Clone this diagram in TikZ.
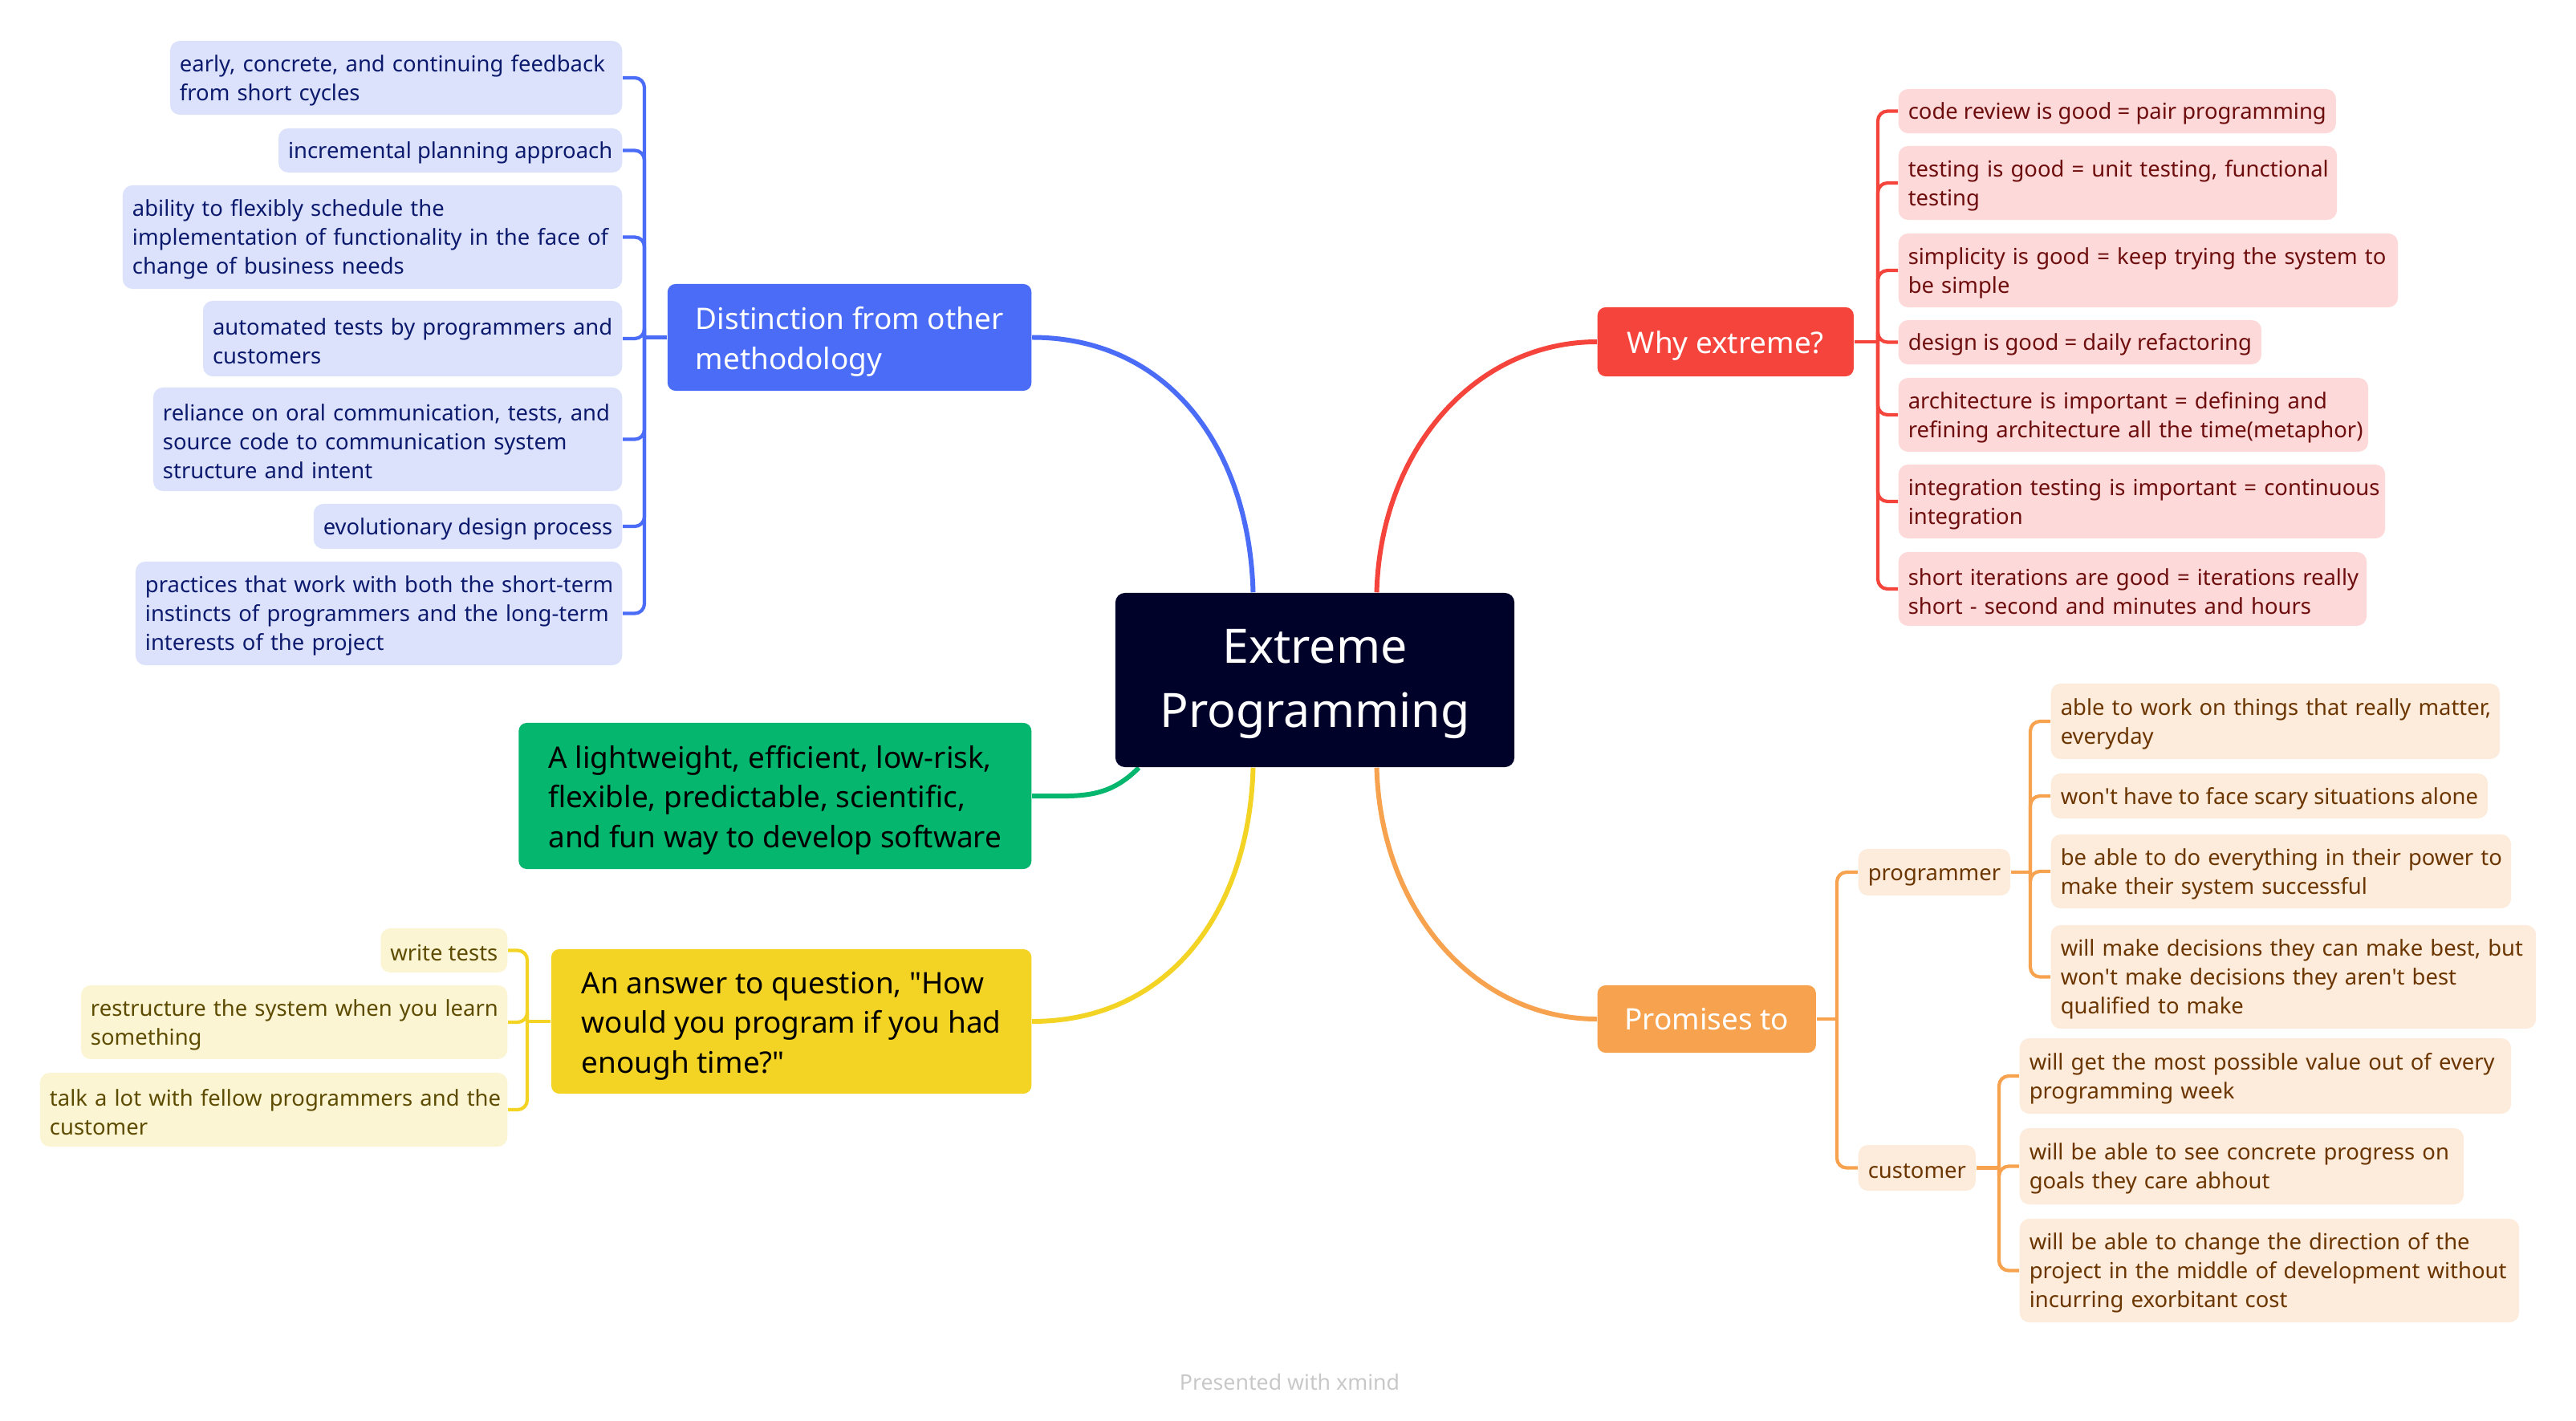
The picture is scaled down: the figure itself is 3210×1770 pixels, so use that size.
\documentclass[tikz,border=0pt]{standalone}
\usepackage{fontspec}
\setmainfont{Noto Sans}
\usetikzlibrary{calc}
\definecolor{cdark}{HTML}{01022A}
\definecolor{cblue}{HTML}{4A6CF7}
\definecolor{lblue}{HTML}{DDE2FC}
\definecolor{tblue}{HTML}{0C1A6E}
\definecolor{cred}{HTML}{F5443C}
\definecolor{lred}{HTML}{FDD9D9}
\definecolor{tred}{HTML}{6E0D0D}
\definecolor{corange}{HTML}{F7A24E}
\definecolor{lorange}{HTML}{FDEBDC}
\definecolor{torange}{HTML}{6B3500}
\definecolor{cgreen}{HTML}{05B66F}
\definecolor{cyellow}{HTML}{F3D425}
\definecolor{lyellow}{HTML}{FCF5D4}
\definecolor{tyellow}{HTML}{5C4B00}
\definecolor{wmark}{HTML}{C8C8C8}
\newcommand\subfs{\fontsize{7.8pt}{10.2pt}\selectfont}
\newcommand\mainfs{\fontsize{10.5pt}{14pt}\selectfont}
\newcommand\ctrfs{\fontsize{16.8pt}{22.8pt}\selectfont}
\newcommand\apos{\textquotesingle}
\newcommand\mb[1]{\mbox{#1}}
\newcommand\lift{\rule{0pt}{1.05em}}
\pgfdeclarelayer{bg}
\pgfsetlayers{bg,main}
\tikzset{
  subbox/.style={rounded corners=0.12cm, inner xsep=0.12cm, inner ysep=0pt, font=\subfs, align=left,
    execute at begin node={\rule{0pt}{0.98em}}},
  bsub/.style={subbox, fill=lblue, text=tblue, anchor=east},
  rsub/.style={subbox, fill=lred, text=tred, anchor=west},
  osub/.style={subbox, fill=lorange, text=torange, anchor=west},
  ysub/.style={subbox, fill=lyellow, text=tyellow, anchor=east},
  mainbox/.style={rounded corners=0.1cm, inner ysep=0pt, font=\mainfs},
  conn/.style={line width=1.7pt},
  subconn/.style={line width=1.2pt, rounded corners=0.12cm},
}
\begin{document}
\begin{tikzpicture}[x=0.01cm,y=-0.01cm]
\useasboundingbox (0,0) rectangle (3210,1770);
% central
\node[rounded corners=0.12cm, fill=cdark, text=white, font=\ctrfs,
  minimum width=4.97cm, minimum height=2.17cm, inner sep=0pt] (c) at (1638.5,847.5)
  {\begin{tabular}{@{}c@{}}\rule{0pt}{17.8pt}Extreme\\Programming\end{tabular}};
% blue branch
\node[mainbox, fill=cblue, text=white, align=left, anchor=east, inner xsep=0.35cm, minimum height=1.33cm] (bm) at (1286,420.5) {\lift Distinction from other\\methodology};
\node[bsub, text width=5.39cm, minimum height=0.92cm] (b1) at (776,97) {\mb{early, concrete, and continuing feedback}\\\mb{from short cycles}};
\node[bsub, minimum height=0.55cm] (b2) at (776,187.5) {incremental planning approach};
\node[bsub, text width=5.98cm, minimum height=1.29cm] (b3) at (776,295.5) {\mb{ability to flexibly schedule the}\\\mb{implementation of functionality in the face of}\\\mb{change of business needs}};
\node[bsub, text width=4.98cm, minimum height=0.94cm] (b4) at (776,422) {\mb{automated tests by programmers and}\\\mb{customers}};
\node[bsub, text width=5.60cm, minimum height=1.29cm] (b5) at (776,547.5) {\mb{reliance on oral communication, tests, and}\\\mb{source code to communication system}\\\mb{structure and intent}};
\node[bsub, minimum height=0.56cm] (b6) at (776,656) {evolutionary design process};
\node[bsub, text width=5.82cm, minimum height=1.29cm] (b7) at (776,764.5) {\mb{practices that work with both the short-term}\\\mb{instincts of programmers and the long-term}\\\mb{interests of the project}};
% red branch
\node[mainbox, fill=cred, text=white, align=center, anchor=west, minimum width=3.19cm, minimum height=0.86cm] (rm) at (1990,426) {\lift Why extreme?};
\node[rsub, minimum height=0.55cm] (r1) at (2365,138.5) {code review is good = pair programming};
\node[rsub, text width=5.22cm, minimum height=0.92cm] (r2) at (2365,228) {\mb{testing is good = unit testing, functional}\\\mb{testing}};
\node[rsub, text width=5.98cm, minimum height=0.92cm] (r3) at (2365,337) {\mb{simplicity is good = keep trying the system to}\\\mb{be simple}};
\node[rsub, minimum height=0.55cm] (r4) at (2365,426.5) {design is good = daily refactoring};
\node[rsub, text width=5.61cm, minimum height=0.92cm] (r5) at (2365,517) {\mb{architecture is important = defining and}\\\mb{refining architecture all the time(metaphor)}};
\node[rsub, text width=5.82cm, minimum height=0.92cm] (r6) at (2365,625) {\mb{integration testing is important = continuous}\\\mb{integration}};
\node[rsub, text width=5.59cm, minimum height=0.92cm] (r7) at (2365,734) {\mb{short iterations are good = iterations really}\\\mb{short - second and minutes and hours}};
% orange branch
\node[mainbox, fill=corange, text=white, align=center, anchor=west, minimum width=2.72cm, minimum height=0.84cm] (om) at (1990,1270) {Promises to};
\node[osub, minimum height=0.58cm] (pg) at (2315,1087) {programmer};
\node[osub, minimum height=0.57cm] (cu) at (2315,1455.5) {customer};
\node[osub, text width=5.35cm, minimum height=0.94cm] (p1) at (2555,899) {\mb{able to work on things that really matter,}\\\mb{everyday}};
\node[osub, minimum height=0.56cm] (p2) at (2555,992) {won\apos t have to face scary situations alone};
\node[osub, text width=5.49cm, minimum height=0.92cm] (p3) at (2555,1086) {\mb{be able to do everything in their power to}\\\mb{make their system successful}};
\node[osub, text width=5.80cm, minimum height=1.29cm] (p4) at (2555,1217.5) {\mb{will make decisions they can make best, but}\\\mb{won\apos t make decisions they aren\apos t best}\\\mb{qualified to make}};
\node[osub, text width=5.88cm, minimum height=0.94cm] (c1) at (2516,1341) {\mb{will get the most possible value out of every}\\\mb{programming week}};
\node[osub, text width=5.29cm, minimum height=0.95cm] (c2) at (2516,1453.5) {\mb{will be able to see concrete progress on}\\\mb{goals they care abhout}};
\node[osub, text width=5.98cm, minimum height=1.29cm] (c3) at (2516,1583.5) {\mb{will be able to change the direction of the}\\\mb{project in the middle of development without}\\\mb{incurring exorbitant cost}};
% green
\node[mainbox, fill=cgreen, text=black, align=left, anchor=east, inner xsep=0.37cm, minimum height=1.82cm] (gm) at (1286,992) {\lift A lightweight, efficient, low-risk,\\flexible, predictable, scientific,\\and fun way to develop software};
% yellow branch
\node[mainbox, fill=cyellow, text=black, align=left, anchor=east, inner xsep=0.36cm, minimum width=5.98cm, minimum height=1.80cm] (ym) at (1286,1273) {\lift An answer to question, \textquotedbl How\\would you program if you had\\enough time?\textquotedbl};
\node[ysub, minimum height=0.55cm] (y1) at (633,1184.5) {write tests};
\node[ysub, text width=5.07cm, minimum height=0.92cm] (y2) at (633,1274) {\mb{restructure the system when you learn}\\\mb{something}};
\node[ysub, text width=5.58cm, minimum height=0.92cm] (y3) at (633,1383) {\mb{talk a lot with fellow programmers and the}\\\mb{customer}};
% watermark
\node[text=wmark, font=\fontsize{7.6pt}{9pt}\selectfont, inner sep=0pt] (wm) at (1607,1722) {Presented with {\bfseries xmind}};
\begin{pgfonlayer}{bg}
% central connectors
\draw[conn, cblue] (bm.east) .. controls +(170,0) and +(-5,-180) .. ($(c.north)+(-77,0)$);
\draw[conn, cred] (rm.west) .. controls +(-150,0) and +(5,-180) .. ($(c.north)+(77,0)$);
\draw[conn, cyellow] (ym.east) .. controls +(170,0) and +(-5,180) .. ($(c.south)+(-77,0)$);
\draw[conn, corange] (om.west) .. controls +(-150,0) and +(5,180) .. ($(c.south)+(77,0)$);
\draw[conn, cgreen] (gm.east) .. controls +(60,0) and +(-40,40) .. ($(c.south west)+(30,0)$);
% blue tree
\draw[subconn, cblue] (bm.west) -- (803,420.5);
\foreach \n in {b1,b2,b3,b4,b5,b6,b7} \draw[subconn, cblue] (803,420.5) |- (\n.east);
% red tree
\draw[subconn, cred] (rm.east) -- (2340,426);
\foreach \n in {r1,r2,r3,r4,r5,r6,r7} \draw[subconn, cred] (2340,426) |- (\n.west);
% orange tree
\draw[subconn, corange] (om.east) -- (2289,1270);
\foreach \n in {pg,cu} \draw[subconn, corange] (2289,1270) |- (\n.west);
\draw[subconn, corange] (pg.east) -- (2530,1087);
\foreach \n in {p1,p2,p3,p4} \draw[subconn, corange] (2530,1087) |- (\n.west);
\draw[subconn, corange] (cu.east) -- (2491,1455.5);
\foreach \n in {c1,c2,c3} \draw[subconn, corange] (2491,1455.5) |- (\n.west);
% yellow tree
\draw[subconn, cyellow] (ym.west) -- (657,1273);
\foreach \n in {y1,y2,y3} \draw[subconn, cyellow] (657,1273) |- (\n.east);
\end{pgfonlayer}
\end{tikzpicture}
\end{document}
